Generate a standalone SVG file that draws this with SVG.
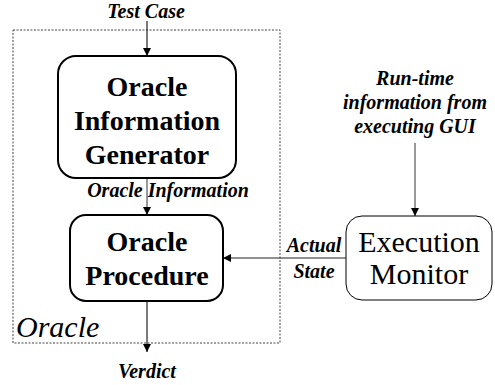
<svg xmlns="http://www.w3.org/2000/svg" width="495" height="385" viewBox="0 0 495 385">
<style>
text{font-family:'Liberation Serif','Times New Roman',serif;fill:#000}
.lbl{font-weight:bold;font-style:italic;font-size:20px;text-anchor:middle}
.big{font-weight:bold;font-size:28px;text-anchor:middle}
.reg{font-size:30px;text-anchor:middle}
.box{fill:#fff;stroke:#000}
.ln{fill:none;stroke:#222;stroke-width:1.2}
</style>
<defs>
<marker id="ah" viewBox="0 0 10 10" refX="10" refY="5" markerWidth="8" markerHeight="8" markerUnits="userSpaceOnUse" orient="auto">
<path d="M0,0 L10,5 L0,10 z" fill="#000"/>
</marker>
</defs>
<rect width="495" height="385" fill="#fff"/>
<g id="oracle-boundary">
<rect x="13" y="30" width="267" height="313" fill="none" stroke="#444" stroke-width="1" stroke-dasharray="2,1.5"/>
<text x="16" y="337" font-style="italic" font-size="30">Oracle</text>
</g>
<g id="connectors">
<line class="ln" x1="147" y1="21" x2="147" y2="56" marker-end="url(#ah)"/>
<line class="ln" x1="147" y1="178" x2="147" y2="215" style="stroke:#555" marker-end="url(#ah)"/>
<line class="ln" x1="147" y1="301" x2="147" y2="352" marker-end="url(#ah)"/>
<line class="ln" x1="415" y1="143" x2="415" y2="216" style="stroke:#555" marker-end="url(#ah)"/>
<line class="ln" x1="346" y1="258" x2="223" y2="258" marker-end="url(#ah)"/>
</g>
<g id="labels">
<text class="lbl" x="146" y="18">Test Case</text>
<text class="lbl" x="168" y="197">Oracle Information</text>
<text class="lbl" x="147" y="378">Verdict</text>
<text class="lbl" x="415" y="85">Run-time</text>
<text class="lbl" x="415" y="109">information from</text>
<text class="lbl" x="415" y="133">executing GUI</text>
<text class="lbl" x="314" y="252">Actual</text>
<text class="lbl" x="314" y="278">State</text>
</g>
<g id="generator">
<rect class="box" x="58" y="56" width="178" height="122" rx="18" stroke-width="2"/>
<text class="big" x="147" y="96">Oracle</text>
<text class="big" x="147" y="130">Information</text>
<text class="big" x="147" y="164">Generator</text>
</g>
<g id="procedure">
<rect class="box" x="70" y="215" width="153" height="86" rx="16" stroke-width="2"/>
<text class="big" x="147" y="251">Oracle</text>
<text class="big" x="147" y="285">Procedure</text>
</g>
<g id="monitor">
<rect class="box" x="346" y="216" width="146" height="84" rx="16" stroke-width="1"/>
<text class="reg" x="419" y="252">Execution</text>
<text class="reg" x="419" y="284">Monitor</text>
</g>
</svg>
